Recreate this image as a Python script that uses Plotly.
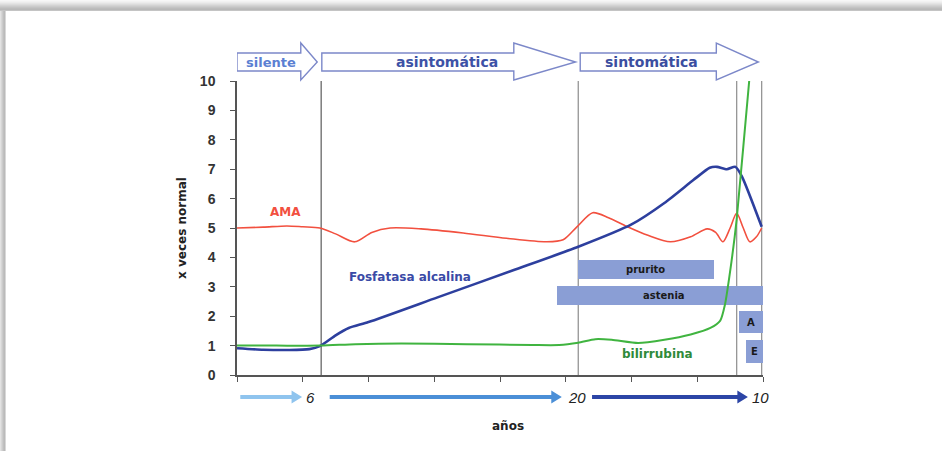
import plotly.graph_objects as go

# ---------------- data ----------------
ama_x = [0, 0.4, 0.76, 1.0, 1.26, 1.5, 1.79, 2.05, 2.33, 2.8, 3.44, 4.1, 4.71, 4.96,
         5.17, 5.41, 5.65, 5.93, 6.25, 6.59, 6.9, 7.15, 7.28, 7.39, 7.5, 7.6, 7.7, 7.8, 7.9, 7.98]
ama_y = [5.0, 5.03, 5.07, 5.04, 5.0, 4.8, 4.53, 4.85, 5.0, 4.97, 4.83, 4.65, 4.53, 4.6,
         5.04, 5.52, 5.35, 5.05, 4.75, 4.53, 4.7, 4.97, 4.85, 4.53, 5.0, 5.5, 5.0, 4.53, 4.7, 5.0]

alp_x = [0, 0.4, 0.8, 1.1, 1.26, 1.5, 1.7, 2.0, 3.05, 4.2, 5.19, 6.0, 6.5, 6.94, 7.19, 7.3,
         7.45, 7.58, 7.68, 7.98]
alp_y = [0.91, 0.86, 0.85, 0.88, 0.98, 1.35, 1.6, 1.8, 2.64, 3.56, 4.36, 5.12, 5.85, 6.63, 7.05,
         7.08, 7.0, 7.08, 6.75, 5.04]

bili_x = [0, 0.6, 1.28, 1.8, 2.5, 3.5, 4.5, 4.9, 5.19, 5.45, 5.7, 6.1, 6.5, 6.9, 7.2, 7.35,
          7.42, 7.52, 7.6, 7.79, 7.83]
bili_y = [1.0, 1.0, 1.0, 1.05, 1.07, 1.05, 1.02, 1.02, 1.1, 1.22, 1.2, 1.09, 1.2, 1.38, 1.6,
          1.85, 2.38, 3.85, 5.3, 10.0, 10.8]

symptoms = ["prurito", "astenia", "A", "E"]
sym_start = [5.19, 4.86, 7.64, 7.74]
sym_end = [7.25, 8.0, 8.0, 8.0]
sym_low = [3.26, 2.38, 1.42, 0.41]
sym_high = [3.91, 3.03, 2.18, 1.19]

phases = ["silente", "asintomática", "sintomática"]
phase_lines = [1.28, 5.19, 7.6, 7.98]
duration_labels = ["6", "20", "10"]

y_ticks = list(range(0, 11))
x_ticks = list(range(0, 9))

# ---------------- figure ----------------
FONT = "Liberation Sans"
WFONT = "DejaVu Sans"
W, H = 942, 451
ML, MR, MT, MB = 237, 179, 81, 76
PW, PH = W - ML - MR, H - MT - MB


def px(xp):
    return (xp - ML) / PW


def py(yp):
    return (H - MB - yp) / PH


fig = go.Figure()

# symptom bars
fig.add_trace(go.Bar(
    orientation="h",
    y=[(lo + hi) / 2 for lo, hi in zip(sym_low, sym_high)],
    x=[e - s for s, e in zip(sym_start, sym_end)],
    base=sym_start,
    width=[hi - lo for lo, hi in zip(sym_low, sym_high)],
    marker=dict(color="#8a9ed5", line=dict(width=0)),
    hoverinfo="skip", showlegend=False,
))

fig.add_trace(go.Scatter(x=ama_x, y=ama_y, mode="lines",
                         line=dict(color="#f2503f", width=1.6, shape="spline", smoothing=0.8),
                         showlegend=False, hoverinfo="skip"))
fig.add_trace(go.Scatter(x=alp_x, y=alp_y, mode="lines",
                         line=dict(color="#2d3f9e", width=2.6, shape="spline", smoothing=0.6),
                         showlegend=False, hoverinfo="skip"))
fig.add_trace(go.Scatter(x=bili_x, y=bili_y, mode="lines",
                         line=dict(color="#40b440", width=2.0, shape="spline", smoothing=0.6),
                         showlegend=False, hoverinfo="skip"))

shapes = []
# frame shadow (top band + left strip)
top_cols = ["#f7f7f7", "#f2f2f2", "#ececec", "#e4e4e4", "#dcdcdc", "#d3d3d3",
            "#cbcbcb", "#c3c3c3", "#bcbcbc", "#b8b8b8", "#c4c4c4"]
for i, c in enumerate(top_cols):
    shapes.append(dict(type="rect", xref="paper", yref="paper", layer="below",
                       x0=px(0), x1=px(W), y0=py(i + 1), y1=py(i),
                       fillcolor=c, line=dict(width=0)))
left_cols = ["#e2e2e2", "#d6d6d6", "#cbcbcb", "#c0c0c0", "#bababa", "#d8d8d8"]
for i, c in enumerate(left_cols):
    shapes.append(dict(type="rect", xref="paper", yref="paper", layer="below",
                       x0=px(i), x1=px(i + 1), y0=py(H), y1=py(11),
                       fillcolor=c, line=dict(width=0)))

# vertical phase lines
for i, xv in enumerate(phase_lines):
    shapes.append(dict(type="line", xref="x", yref="y", layer="below",
                       x0=xv, x1=xv, y0=0, y1=10,
                       line=dict(color="#5a5a5a" if i == 0 else "#8c8c8c", width=1.2)))

# top block arrows (phase names)
arrow_geo = [(0.0, 0.97, 1.22), (1.29, 4.21, 5.15), (5.22, 7.29, 7.93)]
bt, bb, ht, hb = py(53), py(71), py(43), py(80)
for (x0, xb, xt) in arrow_geo:
    path = (f"M {x0},{bb} L {x0},{bt} L {xb},{bt} L {xb},{ht} L {xt},{(bt + bb) / 2} "
            f"L {xb},{hb} L {xb},{bb} Z")
    shapes.append(dict(type="path", xref="x", yref="paper", path=path,
                       fillcolor="white", line=dict(color="#7c88c9", width=1.4)))

# bottom duration arrows
ab_geo = [(0.05, 0.99, "#8fc4ee"), (1.41, 4.94, "#4b8fd7"), (5.40, 7.77, "#2c45a6")]
yc = py(397)
sh = 2.0 / PH
hh = 6.5 / PH
hl = 0.16
for (x0, x1, c) in ab_geo:
    shapes.append(dict(type="path", xref="x", yref="paper",
                       path=(f"M {x0},{yc - sh} L {x1 - hl},{yc - sh} L {x1 - hl},{yc - hh} "
                             f"L {x1},{yc} L {x1 - hl},{yc + hh} L {x1 - hl},{yc + sh} "
                             f"L {x0},{yc + sh} Z"),
                       fillcolor=c, line=dict(width=0)))

C = dict(xanchor="center", yanchor="middle", showarrow=False)

annotations = []
phase_txt = [(0.52, "#5b80d2", 13), (3.19, "#3d52a6", 14), (6.3, "#3b4ea0", 14)]
for name, (xc, col, fs) in zip(phases, phase_txt):
    annotations.append(dict(x=xc, y=py(62), xref="x", yref="paper", text=name, **C,
                            font=dict(family=WFONT, size=fs, color=col, weight="bold")))

for lab, xc in zip(duration_labels, [1.12, 5.17, 7.96]):
    annotations.append(dict(x=xc, y=py(397), xref="x", yref="paper", text=f"<i>{lab}</i>", **C,
                            font=dict(family=FONT, size=15, color="#222")))

label_x = {"prurito": 6.22, "astenia": 6.5, "A": 7.82, "E": 7.87}
for name, lo, hi in zip(symptoms, sym_low, sym_high):
    annotations.append(dict(x=label_x[name], y=(lo + hi) / 2, xref="x", yref="y", text=name, **C,
                            font=dict(family=WFONT, size=10, color="#1a1a1a", weight="bold")))

annotations += [
    dict(x=0.74, y=5.55, xref="x", yref="y", text="AMA", **C,
         font=dict(family=WFONT, size=12, color="#f2503f", weight="bold")),
    dict(x=2.63, y=3.33, xref="x", yref="y", text="Fosfatasa alcalina", **C,
         font=dict(family=WFONT, size=12, color="#3a4aa6", weight="bold")),
    dict(x=6.39, y=0.73, xref="x", yref="y", text="bilirrubina", **C,
         font=dict(family=WFONT, size=12, color="#2f8a3a", weight="bold")),
    dict(x=px(182), y=py(228), xref="paper", yref="paper", text="x veces normal", textangle=-90, **C,
         font=dict(family=WFONT, size=12, color="#222", weight="bold")),
    dict(x=px(508), y=py(426), xref="paper", yref="paper", text="años", **C,
         font=dict(family=WFONT, size=12, color="#222", weight="bold")),
]

fig.update_layout(
    width=W, height=H,
    margin=dict(l=ML, r=MR, t=MT, b=MB, autoexpand=False),
    paper_bgcolor="white", plot_bgcolor="white",
    shapes=shapes, annotations=annotations,
    showlegend=False, bargap=0,
    xaxis=dict(range=[0, 8], showline=True, linecolor="#555", linewidth=1.5,
               ticks="outside", ticklen=5, tickcolor="#555", tickwidth=1.2,
               tickvals=x_ticks, showticklabels=False, showgrid=False, zeroline=False,
               fixedrange=True),
    yaxis=dict(range=[0, 10], showline=True, linecolor="#555", linewidth=1.5,
               ticks="outside", ticklen=5, tickcolor="#555", tickwidth=1.2,
               tickvals=y_ticks, showgrid=False, zeroline=False, fixedrange=True,
               tickfont=dict(family=FONT, size=14, color="#333", weight="bold"),
               ticklabelstandoff=12),
)

fig.write_html("out.html", config={"displayModeBar": False},
               post_script="document.body.style.margin='0';document.body.style.overflow='hidden';")
